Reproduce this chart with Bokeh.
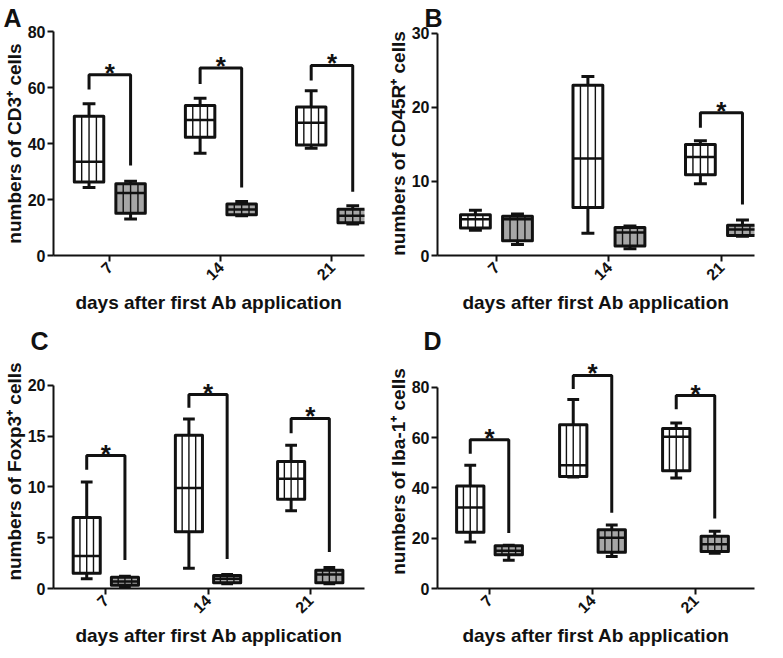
import math
from bokeh.plotting import figure
from bokeh.layouts import row, column
from bokeh.models import Title, FixedTicker
from bokeh.core.properties import value
from bokeh.embed import file_html
from bokeh.resources import INLINE

days = ["7", "14", "21"]

# (whisker low, Q1, median, Q3, whisker high) per day
cd3_white = [(24.3, 26.3, 33.5, 49.8, 54.2), (36.5, 42.3, 48.4, 53.6, 56.2), (38.3, 39.5, 47.4, 53.1, 58.9)]
cd3_grey = [(13.0, 15.1, 22.3, 25.6, 26.5), (14.2, 14.6, 16.4, 18.4, 19.3), (11.3, 11.7, 14.2, 16.5, 17.8)]
cd45_white = [(3.4, 3.7, 4.9, 5.5, 6.1), (3.0, 6.5, 13.1, 23.0, 24.2), (9.7, 10.9, 13.3, 15.0, 15.5)]
cd45_grey = [(1.5, 2.0, 4.9, 5.3, 5.6), (0.9, 1.3, 3.1, 3.8, 4.0), (2.6, 2.7, 3.5, 4.1, 4.8)]
foxp3_white = [(0.96, 1.5, 3.2, 7.0, 10.5), (2.0, 5.6, 9.9, 15.1, 16.7), (7.65, 8.8, 10.8, 12.5, 14.1)]
foxp3_grey = [(0.16, 0.32, 0.7, 1.1, 1.2), (0.48, 0.57, 0.96, 1.28, 1.37), (0.48, 0.57, 1.37, 1.8, 2.07)]
iba1_white = [(18.5, 22.4, 32.2, 40.8, 49.1), (44.4, 44.6, 49.1, 65.2, 75.2), (44.0, 46.9, 60.4, 63.7, 65.9)]
iba1_grey = [(11.2, 13.4, 15.0, 17.0, 17.2), (12.7, 14.4, 20.2, 23.4, 25.3), (14.0, 14.7, 17.6, 20.8, 22.8)]

# significance brackets: (day index, left leg bottom, bracket top, right leg bottom)
cd3_sig = [(0, 59.3, 64.6, 32.2), (1, 61.3, 67.0, 24.3), (2, 62.5, 67.9, 22.8)]
cd45_sig = [(2, 17.25, 19.3, 6.9)]
foxp3_sig = [(0, 11.7, 13.1, 2.8), (1, 17.8, 19.1, 2.9), (2, 15.3, 16.75, 3.6)]
iba1_sig = [(0, 53.6, 59.2, 22.1), (1, 79.4, 84.8, 30.1), (2, 71.3, 76.8, 27.9)]

cd3_ticks = [0, 20, 40, 60, 80]
cd45_ticks = [0, 10, 20, 30]
foxp3_ticks = [0, 5, 10, 15, 20]
iba1_ticks = [0, 20, 40, 60, 80]

FONT = "Liberation Sans"
GREY = "#a6a6a6"
INK = "#111111"
OFF = 0.187
BW = 0.265
CW = 0.115


def panel(letter, ylabel, white, grey, sig, yticks, yend, xr, size, borders, letter_off):
    W, H = size
    left, right, top, bottom = borders
    p = figure(width=W, height=H, x_range=xr, y_range=(0, yend),
               output_backend="svg", toolbar_location=None,
               min_border_left=left, min_border_right=right,
               min_border_top=top, min_border_bottom=bottom)
    t = Title(text=letter, align="left", offset=letter_off, text_font=FONT,
              text_font_style="bold", text_font_size="25px", text_color=INK)
    if "standoff" in Title.properties():
        t.standoff = 0
    p.title = t
    p.xgrid.visible = False
    p.ygrid.visible = False
    p.outline_line_color = None
    p.background_fill_color = "white"
    p.border_fill_color = "white"

    idx = list(range(len(days)))
    for vals, off, fill in ((white, -OFF, "white"), (grey, OFF, GREY)):
        cx = [i + off for i in idx]
        lo = [v[0] for v in vals]
        q1 = [v[1] for v in vals]
        med = [v[2] for v in vals]
        q3 = [v[3] for v in vals]
        hi = [v[4] for v in vals]
        lft = [c - BW / 2 for c in cx]
        rgt = [c + BW / 2 for c in cx]
        p.quad(left=lft, right=rgt, bottom=q1, top=q3, fill_color=fill, line_color=None)
        for k in (-0.25, 0.0, 0.25):
            hx = [c + k * BW for c in cx]
            p.segment(x0=hx, y0=q1, x1=hx, y1=q3, line_color=INK, line_width=1.4)
        p.segment(x0=lft, y0=med, x1=rgt, y1=med, line_color=INK, line_width=2.5)
        p.segment(x0=cx, y0=q3, x1=cx, y1=hi, line_color=INK, line_width=3)
        p.segment(x0=cx, y0=lo, x1=cx, y1=q1, line_color=INK, line_width=3)
        p.segment(x0=[c - CW / 2 for c in cx], y0=hi, x1=[c + CW / 2 for c in cx], y1=hi,
                  line_color=INK, line_width=3)
        p.segment(x0=[c - CW / 2 for c in cx], y0=lo, x1=[c + CW / 2 for c in cx], y1=lo,
                  line_color=INK, line_width=3)
        p.quad(left=lft, right=rgt, bottom=q1, top=q3, fill_color=None,
               line_color=INK, line_width=3, line_join="round")

    xs = [[s[0] - OFF, s[0] - OFF, s[0] + OFF, s[0] + OFF] for s in sig]
    ys = [[s[1], s[2], s[2], s[3]] for s in sig]
    p.multi_line(xs=xs, ys=ys, line_color=INK, line_width=3)
    p.text(x=[s[0] for s in sig], y=[s[2] for s in sig], text=["*"] * len(sig),
           text_align="center", text_baseline="alphabetic", y_offset=-2,
           text_font=value(FONT), text_font_style="bold", text_font_size="26px",
           text_color=INK)

    for ax in (p.xaxis, p.yaxis):
        ax.axis_line_width = 2
        ax.axis_line_color = INK
        ax.major_tick_line_width = 2
        ax.major_tick_line_color = INK
        ax.major_tick_out = 6
        ax.major_tick_in = 0
        ax.minor_tick_line_color = None
        ax.major_label_text_font = FONT
        ax.major_label_text_font_style = "bold"
        ax.major_label_text_font_size = "16px"
        ax.major_label_text_color = INK
        ax.axis_label_text_font = FONT
        ax.axis_label_text_font_style = "bold"
        ax.axis_label_text_font_size = "19px"
        ax.axis_label_text_color = INK
    p.yaxis.ticker = FixedTicker(ticks=yticks)
    p.yaxis.bounds = (0, yticks[-1])
    p.yaxis.major_label_standoff = 2
    p.yaxis.axis_label_standoff = 0
    p.yaxis.axis_label = ylabel
    p.xaxis.ticker = FixedTicker(ticks=idx)
    p.xaxis.major_label_overrides = {i: d for i, d in zip(idx, days)}
    p.xaxis.major_label_orientation = math.pi / 4
    p.xaxis.major_label_standoff = 3
    p.xaxis.axis_label_standoff = 3
    p.xaxis.axis_label = "days after first Ab application"
    return p


# rows share top/bottom borders, columns share left/right borders
pa = panel("A", "numbers of CD3⁺ cells", cd3_white, cd3_grey, cd3_sig, cd3_ticks, 80.05,
           (-0.507, 2.293), (382, 316), (49, 18, 31, 61), -50)
pb = panel("B", "numbers of CD45R⁺ cells", cd45_white, cd45_grey, cd45_sig, cd45_ticks, 30.27,
           (-0.524, 2.294), (384, 316), (55, 12, 31, 61), -13)
pc = panel("C", "numbers of Foxp3⁺ cells", foxp3_white, foxp3_grey, foxp3_sig, foxp3_ticks, 23.05,
           (-0.512, 2.531), (382, 333), (49, 18, 38, 61), -23)
pd = panel("D", "numbers of Iba-1⁺ cells", iba1_white, iba1_grey, iba1_sig, iba1_ticks, 93.13,
           (-0.505, 2.573), (384, 333), (55, 12, 38, 61), -14)

layout = column(row(pa, pb), row(pc, pd))
open("out.html", "w").write(file_html(layout, INLINE))
